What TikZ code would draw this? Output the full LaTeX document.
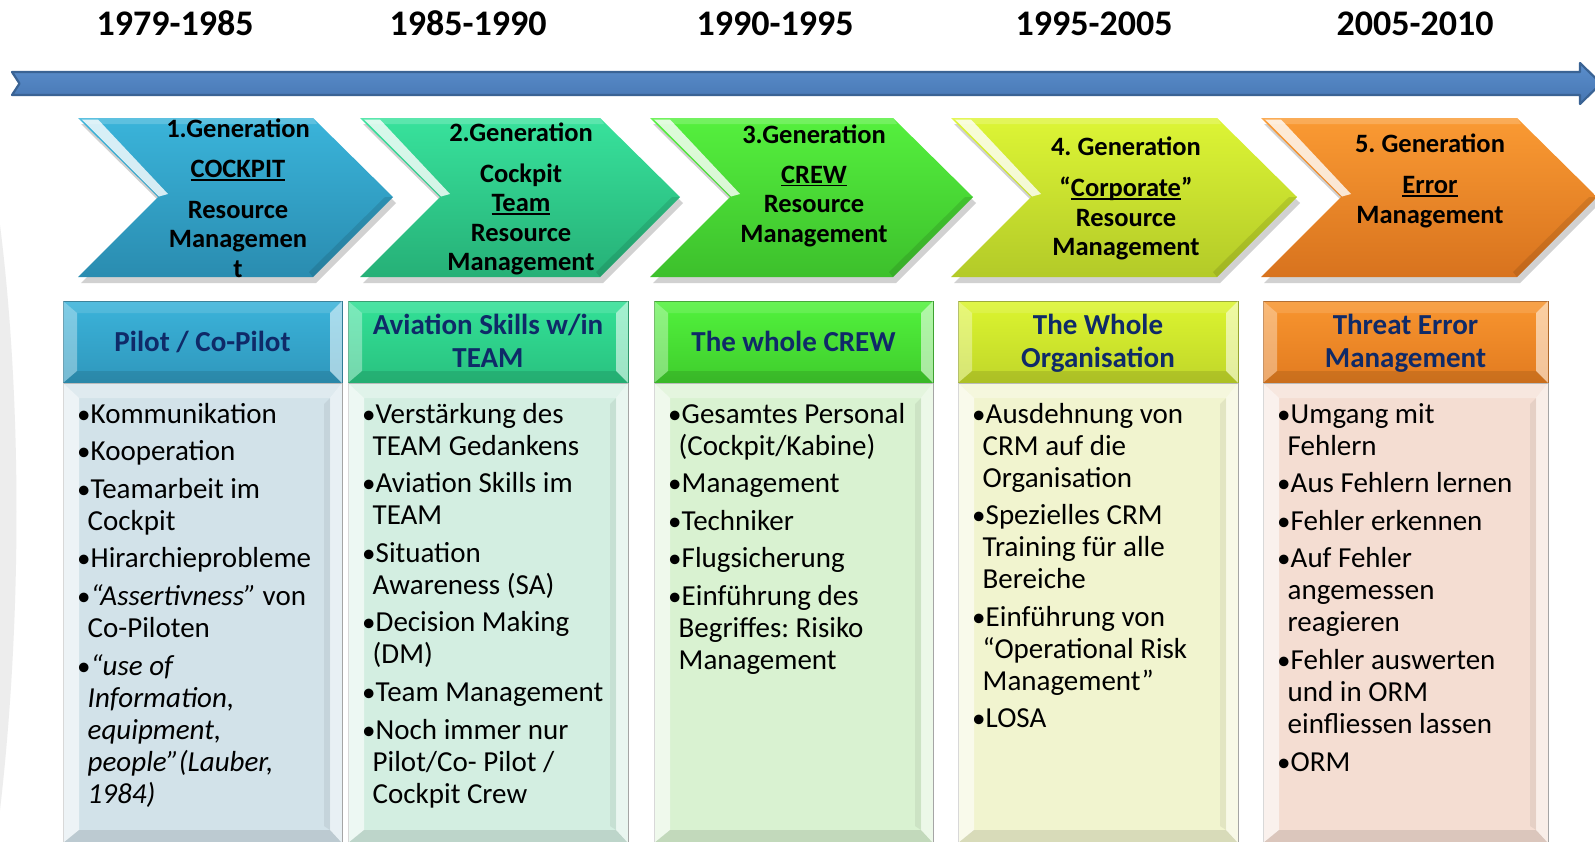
\documentclass[tikz,border=0pt]{standalone}
\usepackage{fontspec}
\setmainfont{Carlito}
\usetikzlibrary{calc}
\frenchspacing
\definecolor{tlfill}{HTML}{4F81BD}
\definecolor{tltop}{HTML}{5B8ECC}
\definecolor{tlbot}{HTML}{4676B2}
\definecolor{tldraw}{HTML}{3A6394}
\definecolor{navy}{HTML}{0F2A68}
\definecolor{cat}{HTML}{3AB4DA}\definecolor{cab}{HTML}{2A8CB0}
\definecolor{cbt}{HTML}{38E29C}\definecolor{cbb}{HTML}{26B077}
\definecolor{cct}{HTML}{55F03E}\definecolor{ccb}{HTML}{3DC02C}
\definecolor{cdt}{HTML}{DDF535}\definecolor{cdb}{HTML}{B3CA28}
\definecolor{cet}{HTML}{FA9A33}\definecolor{ceb}{HTML}{D8731E}
\definecolor{hat}{HTML}{3BB3DA}\definecolor{hab}{HTML}{2F97BC}
\definecolor{hbt}{HTML}{33E197}\definecolor{hbb}{HTML}{29C17F}
\definecolor{hct}{HTML}{52F23D}\definecolor{hcb}{HTML}{3FCD2C}
\definecolor{hdt}{HTML}{DCF52F}\definecolor{hdb}{HTML}{C0D62A}
\definecolor{het}{HTML}{F8952F}\definecolor{heb}{HTML}{E27B20}
\definecolor{bda}{HTML}{D2E2E9}
\definecolor{bdb}{HTML}{D3EEE1}
\definecolor{bdc}{HTML}{D9F2D1}
\definecolor{bdd}{HTML}{F1F4CF}
\definecolor{bde}{HTML}{F4DDD2}
\newcommand{\ulx}[1]{\leavevmode\setbox0\hbox{#1}\rlap{\rule[-3.2pt]{\wd0}{1.7pt}}\box0}
\newcommand{\itm}[1]{\par\hangindent=10.5pt\hangafter=1\noindent\makebox[13.5pt][l]{\fontsize{27}{27}\selectfont•}#1\par}
% chevron: #1 left x, #2 tip x, #3 top colour, #4 bottom colour
\newcommand{\mkchev}[4]{%
  \fill[black,opacity=0.18] ({#1+3},124) -- ({#2-77},124) -- ({#2+3},203) -- ({#2-77},283) -- ({#1+3},283) -- ({#1+83},203) -- cycle;
  \shade[top color=#3,bottom color=#4] (#1,118) -- ({#2-80},118) -- (#2,197) -- ({#2-80},277) -- (#1,277) -- ({#1+80},197) -- cycle;
  \fill[white,opacity=0.18] (#1,118) -- ({#2-80},118) -- ({#2-76},124) -- ({#1+9},124) -- cycle;
  \fill[black,opacity=0.10] ({#2-80},277) -- (#2,197) -- ({#2-8},197) -- ({#2-84},272) -- cycle;
  \fill[white,opacity=0.8] ({#1+4},119.5) -- ({#1+20},119.5) -- ({#1+90},194) -- ({#1+81},196.5) -- cycle;
}
% column: #1 left, #2 right, #3 header top colour, #4 header bottom colour, #5 body colour
\newcommand{\mkcol}[5]{%
  \shadedraw[top color=#3,bottom color=#4,draw=#4!75!black,line width=0.8pt] (#1,301) rectangle (#2,383);
  \fill[white,opacity=0.35] (#1,301) -- ({#1+14},313) -- ({#1+14},371) -- (#1,383) -- cycle;
  \fill[white,opacity=0.55] (#2,301) -- ({#2-12},313) -- ({#2-12},371) -- (#2,383) -- cycle;
  \fill[white,opacity=0.12] (#1,301) -- (#2,301) -- ({#2-12},313) -- ({#1+14},313) -- cycle;
  \fill[black,opacity=0.10] (#1,383) -- (#2,383) -- ({#2-12},371) -- ({#1+14},371) -- cycle;
  \filldraw[fill=#5,draw=gray!75,line width=0.8pt] (#1,383) rectangle (#2,843);
  \fill[white,opacity=0.6] (#1,383) -- ({#1+16},398) -- ({#1+16},830) -- (#1,843) -- cycle;
  \fill[white,opacity=0.5] (#2,383) -- ({#2-12},398) -- ({#2-12},830) -- (#2,843) -- cycle;
  \fill[black,opacity=0.06] ({#2-12},398) -- ({#2-18},404) -- ({#2-18},826) -- ({#2-12},830) -- cycle;
  \fill[white,opacity=0.3] (#1,383) -- (#2,383) -- ({#2-12},398) -- ({#1+16},398) -- cycle;
  \fill[black,opacity=0.10] (#1,843) -- (#2,843) -- ({#2-12},830) -- ({#1+16},830) -- cycle;
}
\tikzset{
  yr/.style={anchor=base,inner sep=0pt,font=\bfseries\fontsize{36}{40}\selectfont},
  chtxt/.style={anchor=base,inner sep=0pt,font=\bfseries\fontsize{26.5}{29.5}\selectfont},
  hdtxt/.style={anchor=base,inner sep=0pt,text=navy,font=\bfseries\fontsize{29}{33}\selectfont},
  bodytxt/.style={anchor=base west,inner sep=0pt,font=\fontsize{29}{32}\selectfont},
}
\begin{document}
\begin{tikzpicture}[x=1pt,y=-1pt]
\useasboundingbox (0,0) rectangle (1595,841);
\clip (0,0) rectangle (1595,841);
\fill[white] (0,0) rectangle (1595,841);
% faint grey arc at the left edge
\fill[gray!14] (0,225) .. controls (22,400) and (22,620) .. (0,810) -- cycle;

% years
\node[yr] (y1) at (175,35) {1979-1985};
\node[yr] (y2) at (468,35) {1985-1990};
\node[yr] (y3) at (775,35) {1990-1995};
\node[yr] (y4) at (1094,35) {1995-2005};
\node[yr] (y5) at (1415,35) {2005-2010};

% timeline arrow
\shadedraw[top color=tltop,bottom color=tlbot,draw=tldraw,line width=2.2pt,line join=round]
  (12,72) -- (1580,72) -- (1580,63) -- (1601,83.5) -- (1580,104) -- (1580,95) -- (12,95) -- (19.5,83.5) -- cycle;

% chevrons
\mkchev{78}{393}{cat}{cab}
\mkchev{360}{680}{cbt}{cbb}
\mkchev{650}{973}{cct}{ccb}
\mkchev{951}{1297}{cdt}{cdb}
\mkchev{1261}{1597}{cet}{ceb}

\node[chtxt] (g1) at (238,137) {\parbox[t]{220pt}{\centering 1.Generation\\[11pt]\ulx{COCKPIT}\\[11pt]Resource\\Managemen\\t}};
\node[chtxt] (g2) at (521,141) {\parbox[t]{220pt}{\centering 2.Generation\\[11.5pt]Cockpit\\\ulx{Team}\\Resource\\Management}};
\node[chtxt] (g3) at (814,143) {\parbox[t]{220pt}{\centering 3.Generation\\[10.5pt]\ulx{CREW}\\Resource\\Management}};
\node[chtxt] (g4) at (1126,155) {\parbox[t]{220pt}{\centering 4. Generation\\[12pt]“\ulx{Corporate}”\\Resource\\Management}};
\node[chtxt] (g5) at (1430,152) {\parbox[t]{220pt}{\centering 5. Generation\\[12pt]\ulx{Error}\\Management}};

% columns
\mkcol{63}{342}{hat}{hab}{bda}
\mkcol{348}{628}{hbt}{hbb}{bdb}
\mkcol{654}{933}{hct}{hcb}{bdc}
\mkcol{958}{1238}{hdt}{hdb}{bdd}
\mkcol{1263}{1548}{het}{heb}{bde}

\node[hdtxt] (h1) at (202.5,351) {\parbox[t]{270pt}{\centering Pilot / Co-Pilot}};
\node[hdtxt] (h2) at (488,334) {\parbox[t]{270pt}{\centering Aviation Skills w/in\\TEAM}};
\node[hdtxt] (h3) at (793.5,351) {\parbox[t]{270pt}{\centering The whole CREW}};
\node[hdtxt] (h4) at (1098,334) {\parbox[t]{270pt}{\centering The Whole\\Organisation}};
\node[hdtxt] (h5) at (1405.5,334) {\parbox[t]{270pt}{\centering Threat Error\\Management}};

\node[bodytxt] (t1) at (77,423) {\parbox[t]{300pt}{\setlength{\parskip}{5.6pt}
\itm{Kommunikation}
\itm{Kooperation}
\itm{Teamarbeit im\newline Cockpit}
\itm{Hirarchieprobleme}
\itm{{\itshape “Assertivness”} von\newline Co-Piloten}
\itm{{\itshape “use of\newline Information,\newline equipment,\newline people”(Lauber,\newline 1984)}}}};

\node[bodytxt] (t2) at (362,423) {\parbox[t]{300pt}{\setlength{\parskip}{5.6pt}
\itm{Verstärkung des\newline TEAM Gedankens}
\itm{Aviation Skills im\newline TEAM}
\itm{Situation\newline Awareness (SA)}
\itm{Decision Making\newline (DM)}
\itm{Team Management}
\itm{Noch immer nur\newline Pilot/Co- Pilot /\newline Cockpit Crew}}};

\node[bodytxt] (t3) at (668,423) {\parbox[t]{300pt}{\setlength{\parskip}{5.6pt}
\itm{Gesamtes Personal\newline (Cockpit/Kabine)}
\itm{Management}
\itm{Techniker}
\itm{Flugsicherung}
\itm{Einführung des\newline Begriffes: Risiko\newline Management}}};

\node[bodytxt] (t4) at (972,423) {\parbox[t]{300pt}{\setlength{\parskip}{5.6pt}
\itm{Ausdehnung von\newline CRM auf die\newline Organisation}
\itm{Spezielles CRM\newline Training für alle\newline Bereiche}
\itm{Einführung von\newline “Operational Risk\newline Management”}
\itm{LOSA}}};

\node[bodytxt] (t5) at (1277,423) {\parbox[t]{300pt}{\setlength{\parskip}{5.6pt}
\itm{Umgang mit\newline Fehlern}
\itm{Aus Fehlern lernen}
\itm{Fehler erkennen}
\itm{Auf Fehler\newline angemessen\newline reagieren}
\itm{Fehler auswerten\newline und in ORM\newline einfliessen lassen}
\itm{ORM}}};
\end{tikzpicture}
\end{document}
